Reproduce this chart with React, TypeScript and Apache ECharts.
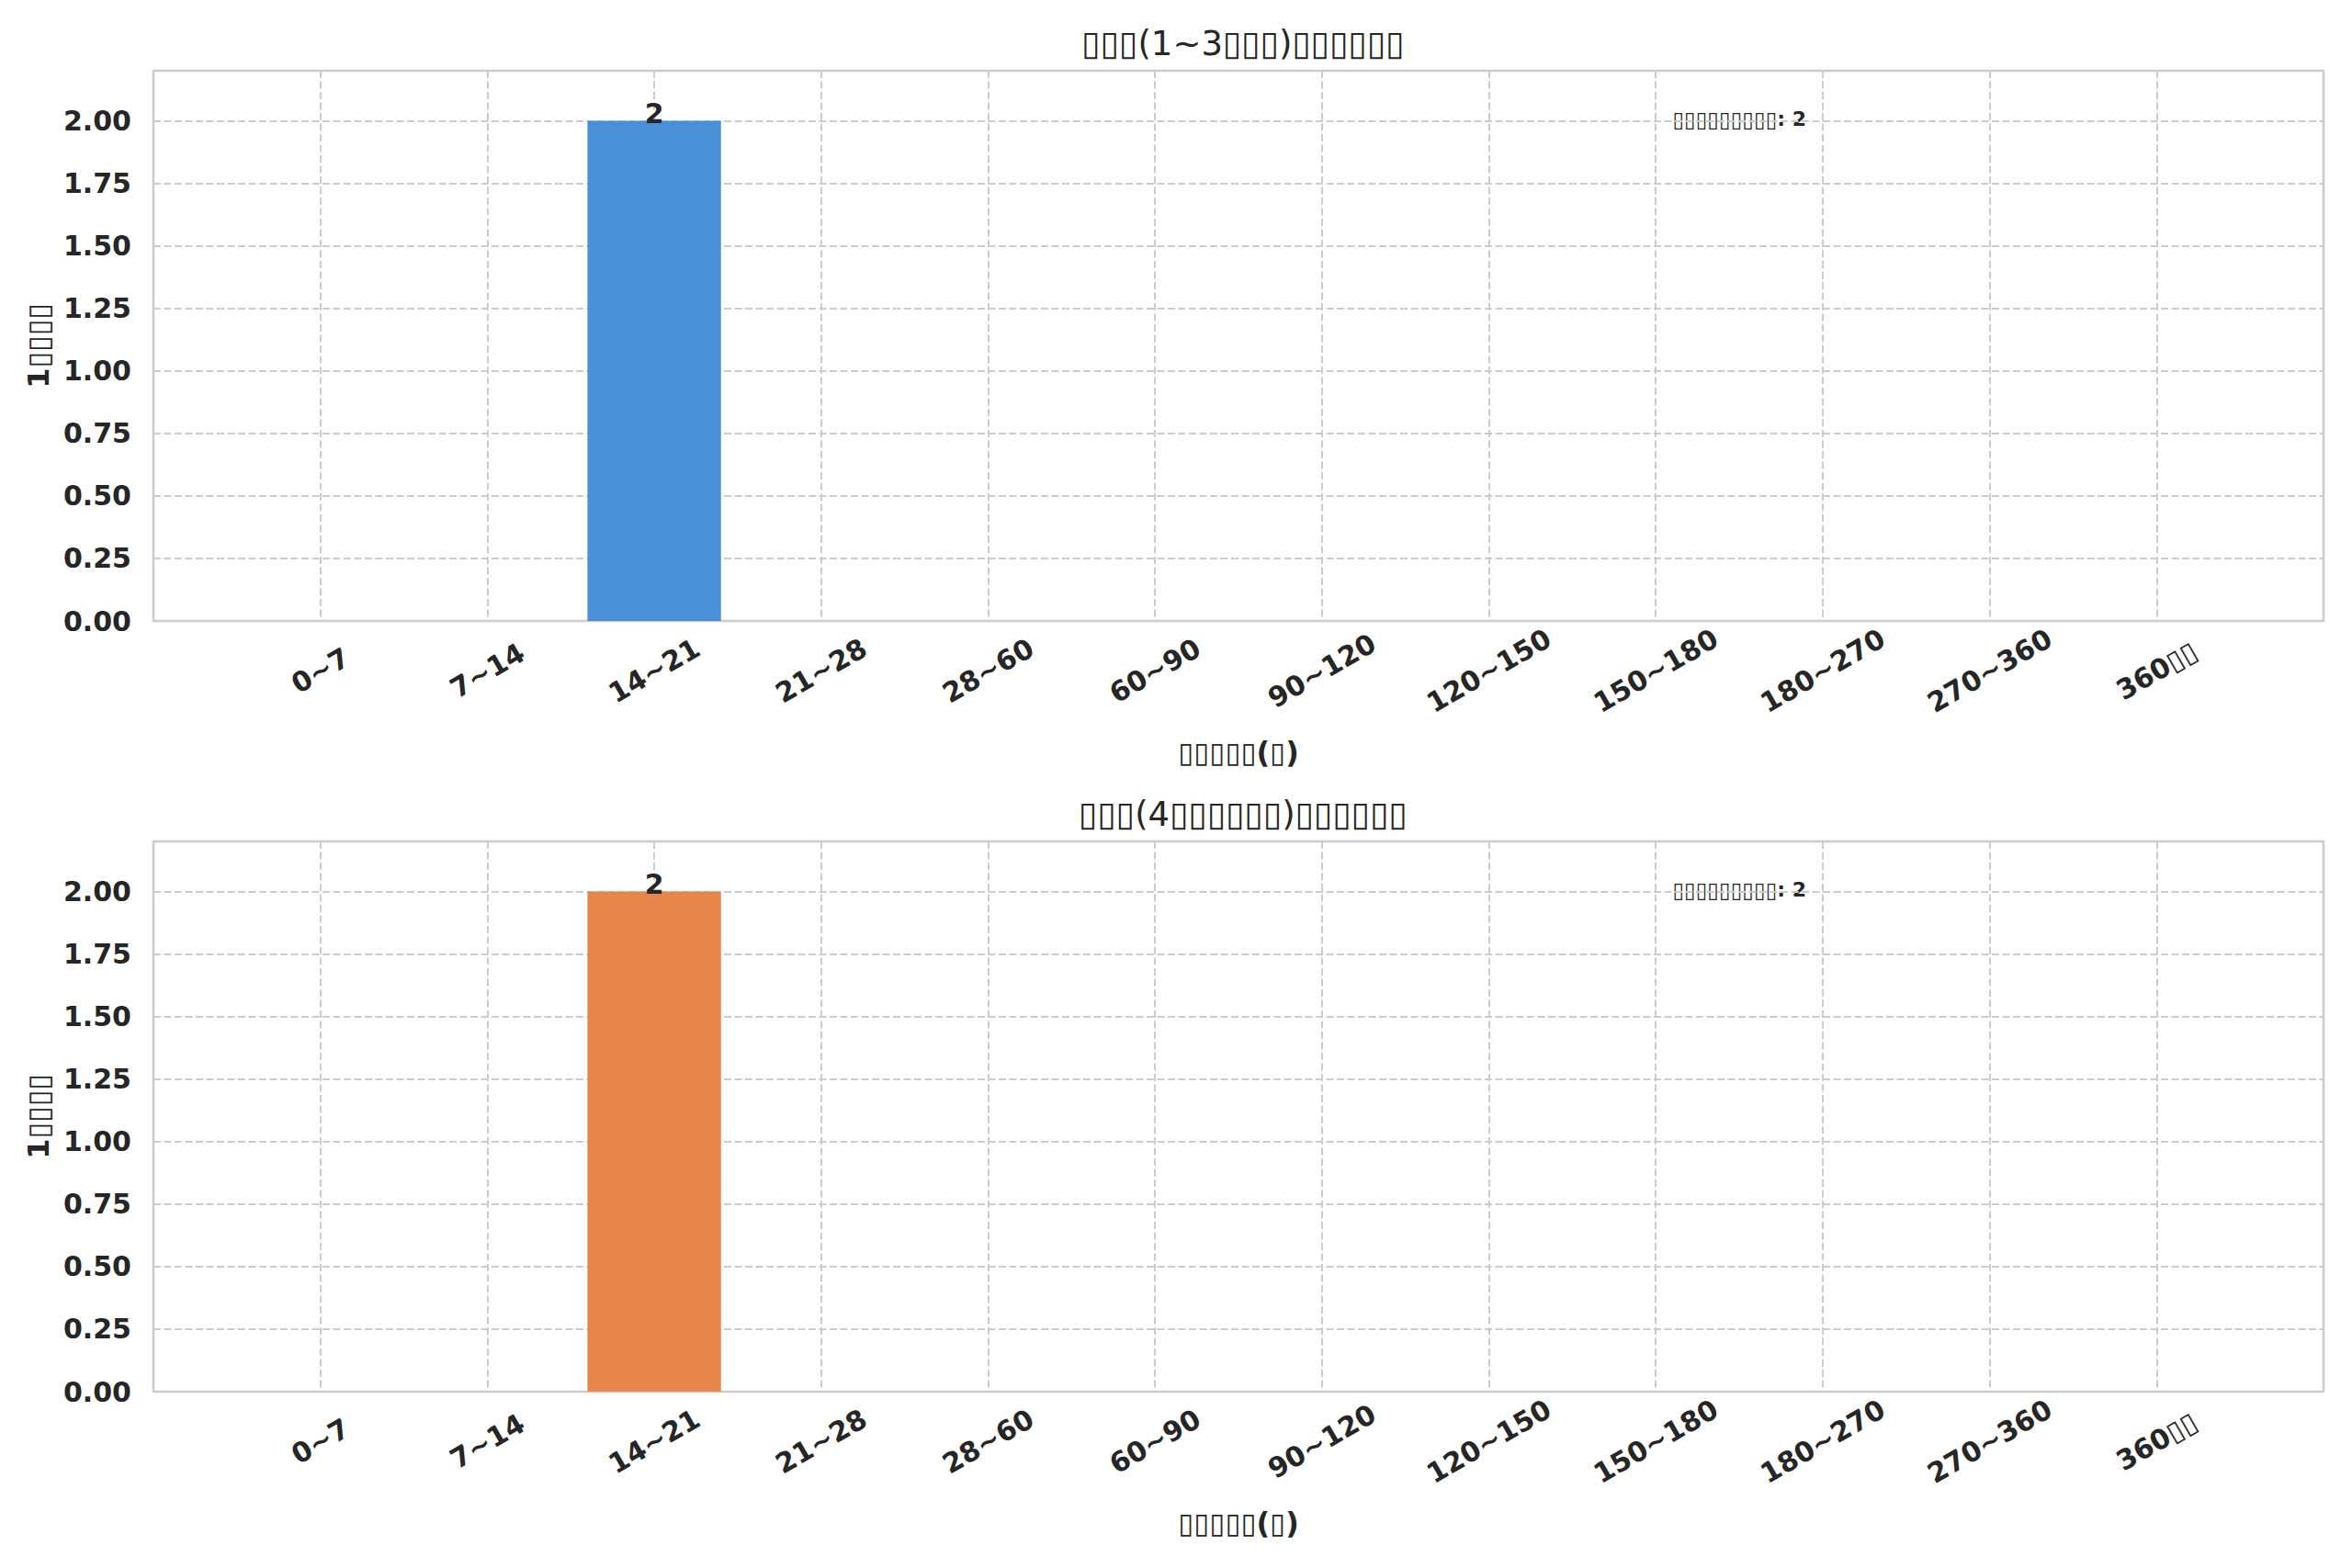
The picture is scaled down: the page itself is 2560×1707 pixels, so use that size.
import React, { useEffect, useRef } from "react";
import * as echarts from "echarts";

const B = "\u25AF";
const box = (n: number) => B.repeat(n);

const categories = ["0~7", "7~14", "14~21", "21~28", "28~60", "60~90", "90~120", "120~150", "150~180", "180~270", "270~360", "360" + box(2)];
const newCustomerCounts = [0, 0, 2, 0, 0, 0, 0, 0, 0, 0, 0, 0];
const oldCustomerCounts = [0, 0, 2, 0, 0, 0, 0, 0, 0, 0, 0, 0];
const titles = [box(3) + "(1~3" + box(3) + ")" + box(6), box(3) + "(4" + box(6) + ")" + box(6)];
const yAxisName = "1" + box(4);
const xAxisName = box(5) + "(" + box(1) + ")";
const noteText = box(9) + ": ";
const barColors = ["#4A90D9", "#E8854B"];
const seriesList = [newCustomerCounts, oldCustomerCounts];

const W = 2560;
const H = 1707;
const PL = 167;
const PR = 2529;
const PW = PR - PL;
const tops = [77, 916];
const PH = 599;
const XMIN = -1;
const XMAX = 12;
const unit = PW / (XMAX - XMIN);
const TXT = "#262626";
const GRIDC = "#cccccc";
const FF = "DejaVu Sans";

const rich = (s: string) => s.replace(/\u25AF+/g, (m) => "{b|" + m + "}");
const boxStyle = (size: number, scale = 1) => ({
  b: { fontFamily: FF, fontSize: Math.round(size * scale), fontWeight: "normal", color: TXT },
});

export default function App() {
  const ref = useRef<HTMLDivElement>(null);
  useEffect(() => {
    if (!ref.current) return;
    const chart = echarts.init(ref.current, null, { renderer: "svg", width: W, height: H });
    const grids = tops.map((t) => ({
      left: PL,
      top: t,
      width: PW,
      height: PH,
      show: true,
      borderColor: GRIDC,
      borderWidth: 2.5,
      backgroundColor: "transparent",
      containLabel: false,
    }));
    const xAxes = tops.map((_, i) => ({
      type: "value",
      gridIndex: i,
      min: XMIN,
      max: XMAX,
      interval: 1,
      name: rich(xAxisName),
      nameLocation: "middle",
      nameGap: 127,
      nameTextStyle: { fontFamily: FF, fontWeight: "bold", fontSize: 32, color: TXT, rich: boxStyle(32, 0.97) },
      axisLine: { show: false },
      axisTick: { show: false },
      splitLine: { show: true, lineStyle: { color: GRIDC, width: 2, type: [8, 3.5] } },
      axisLabel: {
        rotate: 30,
        align: "center",
        verticalAlign: "middle",
        margin: 54,
        fontFamily: FF,
        fontWeight: "bold",
        fontSize: 30,
        color: TXT,
        rich: boxStyle(30),
        formatter: (v: number) => {
          const k = Math.round(v);
          return Math.abs(v - k) < 1e-6 && k >= 0 && k < categories.length ? rich(categories[k]) : "";
        },
      },
    }));
    const yAxes = tops.map((_, i) => ({
      type: "value",
      gridIndex: i,
      min: 0,
      max: 2.2,
      interval: 0.25,
      name: rich(yAxisName),
      nameLocation: "middle",
      nameRotate: 90,
      nameGap: 97,
      nameTextStyle: { fontFamily: FF, fontWeight: "bold", fontSize: 32, color: TXT, rich: boxStyle(32) },
      axisLine: { show: false },
      axisTick: { show: false },
      splitLine: { show: true, lineStyle: { color: GRIDC, width: 2, type: [8, 3.5] } },
      axisLabel: {
        margin: 24,
        fontFamily: FF,
        fontWeight: "bold",
        fontSize: 30,
        color: TXT,
        showMaxLabel: false,
        formatter: (v: number) => (v > 2.1 ? "" : v.toFixed(2)),
      },
    }));
    const series = seriesList.map((vals, i) => ({
      type: "bar",
      xAxisIndex: i,
      yAxisIndex: i,
      barWidth: unit * 0.8,
      data: vals.map((v, k) => [k, v]),
      itemStyle: { color: barColors[i] },
      label: {
        show: true,
        position: "top",
        distance: -7,
        fontFamily: FF,
        fontWeight: "bold",
        fontSize: 30,
        color: TXT,
        formatter: (p: any) => (p.value[1] > 0 ? String(p.value[1]) : ""),
      },
    }));
    const graphics: any[] = [];
    seriesList.forEach((vals, i) => {
      graphics.push({
        type: "text",
        left: PL + PW * 0.7,
        top: tops[i] + 41,
        style: {
          text: rich(noteText) + Math.max(...vals),
          fontFamily: FF,
          fontWeight: "bold",
          fontSize: 22,
          fill: TXT,
          rich: { b: { fontFamily: FF, fontSize: 23, fontWeight: "normal", fill: TXT } },
        },
      });
    });
    chart.setOption({
      animation: false,
      backgroundColor: "#ffffff",
      title: titles.map((t, i) => ({
        text: rich(t),
        left: PL + PW / 2,
        top: tops[i] - 53,
        textAlign: "center",
        textStyle: { fontFamily: FF, fontWeight: "normal", fontSize: 37, color: TXT, rich: boxStyle(37) },
      })),
      grid: grids,
      xAxis: xAxes,
      yAxis: yAxes,
      series,
      graphic: graphics,
    } as any);
    return () => chart.dispose();
  }, []);
  return <div ref={ref} style={{ position: "absolute", left: 0, top: 0, width: W, height: H }} />;
}
